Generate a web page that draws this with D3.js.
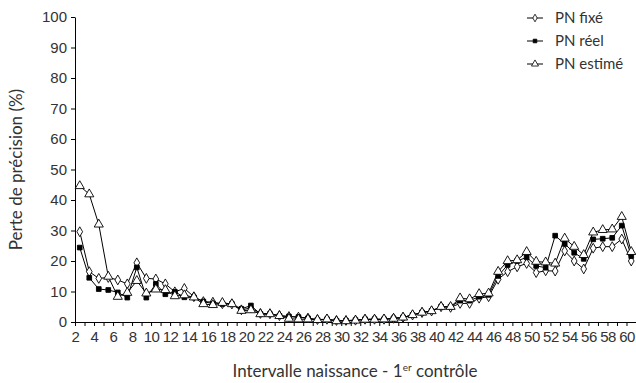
<!DOCTYPE html>
<html>
<head>
<meta charset="utf-8">
<script src="https://cdn.jsdelivr.net/npm/d3@7"></script>
<style>
  body { margin: 0; background: #fff; }
  svg { display: block; font-family: Lato, "Open Sans", sans-serif; }
</style>
</head>
<body>
<div id="chart"></div>
<script>
// intervals 2..60
const intervals = d3.range(2, 61);
const yTicks = [0, 10, 20, 30, 40, 50, 60, 70, 80, 90, 100];
const xTickLabels = d3.range(2, 61, 2);

const pnFixe = [29.6, 16.5, 14.3, 14.6, 13.8, 12.5, 19.4, 14.3, 14.1, 12.5, 9.9, 11.0, 8.3, 6.7, 6.5,
  6.0, 5.9, 4.0, 4.6, 2.8, 2.7, 2.1, 1.8, 1.6, 1.3, 0.8, 0.9, 0.5, 0.5, 0.6, 0.9, 0.9, 0.9, 1.2,
  1.5, 2.3, 3.1, 3.6, 5.0, 4.8, 6.1, 6.1, 7.8, 8.3, 14.0, 16.5, 18.1, 19.2, 16.2, 16.8, 16.7, 23.3,
  20.0, 17.4, 24.2, 24.7, 24.7, 27.2, 20.0];
const pnReel = [24.4, 14.5, 10.8, 10.5, 9.7, 8.0, 17.9, 8.0, 12.5, 9.1, 9.9, 8.1, 8.1, 6.7, 6.0,
  5.9, 5.9, 4.3, 5.4, 2.6, 2.6, 2.0, 1.8, 1.6, 1.2, 0.7, 0.9, 0.4, 0.4, 0.6, 0.9, 0.9, 0.9, 1.2,
  1.5, 2.3, 3.1, 3.6, 5.0, 5.0, 7.0, 7.0, 8.3, 8.9, 15.1, 18.7, 20.0, 21.2, 18.4, 17.8, 28.3, 25.6,
  22.7, 20.7, 27.1, 27.3, 27.6, 31.6, 21.6];
const pnEstime = [44.6, 41.9, 32.0, 14.9, 8.3, 9.6, 13.5, 9.4, 10.7, 10.5, 8.5, 8.8, 8.1, 5.9, 5.6,
  6.3, 5.9, 3.7, 3.9, 2.6, 2.6, 2.0, 1.1, 0.9, 0.9, 0.7, 0.9, 0.3, 0.3, 0.5, 0.8, 0.8, 0.9, 1.1,
  1.5, 2.3, 3.1, 3.6, 5.0, 5.0, 7.8, 7.5, 9.2, 9.4, 16.5, 20.0, 20.3, 23.0, 19.8, 19.6, 19.2, 27.4,
  24.7, 22.0, 29.4, 30.2, 30.4, 34.5, 23.0];

const seriesNames = ['PN fixé', 'PN réel', 'PN estimé'];
const seriesValues = [pnFixe, pnReel, pnEstime];
const seriesSymbols = [d3.symbolDiamond, d3.symbolSquare, d3.symbolTriangle];

const width = 636, height = 383;
const svg = d3.select('#chart').append('svg')
  .attr('width', width).attr('height', height);

const x = d3.scaleLinear().domain([2, 61]).range([75, 636]);
const y = d3.scaleLinear().domain([0, 100]).range([322, 17]);

// axes
const xAxis = svg.append('g')
  .attr('transform', `translate(0,${y(0)})`)
  .call(d3.axisBottom(x).tickValues(d3.range(2, 62)).tickSize(4).tickSizeOuter(0)
    .tickFormat(d => xTickLabels.includes(d) ? d : ''));
xAxis.select('.domain').attr('stroke', '#000');
xAxis.selectAll('.tick line').attr('stroke', '#000');
xAxis.selectAll('.tick text').attr('font-size', 15).attr('fill', '#333')
  .attr('dy', '0.85em').attr('letter-spacing', '-0.5');

const yAxis = svg.append('g')
  .attr('transform', `translate(${x(2)},0)`)
  .call(d3.axisLeft(y).tickValues(yTicks).tickSize(4).tickSizeOuter(0));
yAxis.select('.domain').attr('stroke', '#000');
yAxis.selectAll('.tick line').attr('stroke', '#000');
yAxis.selectAll('.tick text').attr('font-size', 15).attr('fill', '#333').attr('x', -8);

// axis titles
svg.append('text')
  .attr('transform', `translate(22,${(y(0) + y(100)) / 2}) rotate(-90)`)
  .attr('text-anchor', 'middle')
  .attr('font-size', 17).attr('fill', '#333')
  .text('Perte de précision (%)');

const xt = svg.append('text')
  .attr('x', 355).attr('y', 377)
  .attr('text-anchor', 'middle')
  .attr('font-size', 17).attr('fill', '#333');
xt.append('tspan').text('Intervalle naissance - 1');
xt.append('tspan').attr('font-size', 10).attr('dy', -6).text('er');
xt.append('tspan').attr('dy', 6).text(' contrôle');

// series
const line = d3.line().x((d, i) => x(intervals[i] + 0.5)).y(d => y(d));
const symbolSize = [28, 22, 36];
const symbolFill = ['#fff', '#000', '#fff'];

seriesValues.forEach(vals => {
  svg.append('path')
    .datum(vals)
    .attr('d', line)
    .attr('fill', 'none')
    .attr('stroke', '#000')
    .attr('stroke-width', 1);
});

seriesValues.forEach((vals, s) => {
  svg.append('g').selectAll('path')
    .data(vals)
    .enter()
    .append('path')
    .attr('transform', (d, i) => `translate(${x(intervals[i] + 0.5)},${y(d)})`)
    .attr('d', d3.symbol().type(seriesSymbols[s]).size(symbolSize[s]))
    .attr('fill', symbolFill[s])
    .attr('stroke', '#000')
    .attr('stroke-width', 0.9);
});

// legend
const legend = svg.append('g')
  .selectAll('g')
  .data(seriesNames)
  .enter()
  .append('g')
  .attr('transform', (d, i) => `translate(527,${18 + i * 23})`);

legend.append('line')
  .attr('x1', 0).attr('x2', 16)
  .attr('stroke', '#000');

legend.append('path')
  .attr('transform', 'translate(8,0)')
  .attr('d', (d, i) => d3.symbol().type(seriesSymbols[i]).size(symbolSize[i] * 0.6)())
  .attr('fill', (d, i) => symbolFill[i])
  .attr('stroke', '#000')
  .attr('stroke-width', 0.8);

legend.append('text')
  .attr('x', 28)
  .attr('dy', '0.35em')
  .attr('font-size', 15)
  .attr('fill', '#333')
  .text(d => d);
</script>
</body>
</html>
